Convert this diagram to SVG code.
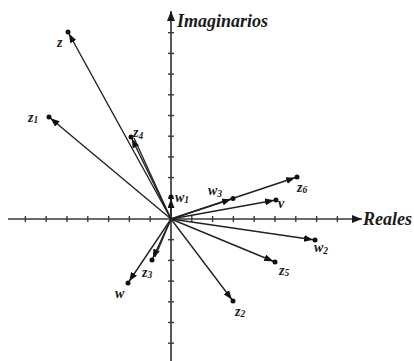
<svg xmlns="http://www.w3.org/2000/svg" width="414" height="361" viewBox="0 0 414 361">
<style>
.ax{stroke:#3a3a3a;stroke-width:1.7;fill:none}
.tk{stroke:#3a3a3a;stroke-width:1.4}
.vec{stroke:#222;stroke-width:1.4;fill:none;marker-end:url(#ah)}
.ln{stroke:#222;stroke-width:1.3;fill:none}
.dot{fill:#111}
.lb{font-family:"Liberation Serif",serif;font-style:italic;font-weight:bold;font-size:14px;fill:#1a1a1a}
.sb{font-size:9.5px}
.ttl{font-family:"Liberation Serif",serif;font-style:italic;font-weight:bold;font-size:18px;fill:#1a1a1a}
</style>
<defs>
<marker id="ah" markerUnits="userSpaceOnUse" markerWidth="9" markerHeight="7" refX="11" refY="3.5" orient="auto">
<path d="M0,0 L9,3.5 L0,7 z" fill="#111"/>
</marker>
<marker id="axh" markerUnits="userSpaceOnUse" markerWidth="10" markerHeight="8" refX="10" refY="4" orient="auto">
<path d="M0,0 L10,4 L0,8 z" fill="#1a1a1a"/>
</marker>
</defs>
<g id="axes">
<line class="ax" x1="8" y1="219" x2="362" y2="219" marker-end="url(#axh)"/>
<line class="ax" x1="171" y1="361" x2="171" y2="11" marker-end="url(#axh)"/>
<g class="tk">
<line x1="25.4" y1="216" x2="25.4" y2="222"/><line x1="46.2" y1="216" x2="46.2" y2="222"/><line x1="67" y1="216" x2="67" y2="222"/><line x1="87.8" y1="216" x2="87.8" y2="222"/><line x1="108.6" y1="216" x2="108.6" y2="222"/><line x1="129.4" y1="216" x2="129.4" y2="222"/><line x1="150.2" y1="216" x2="150.2" y2="222"/>
<line x1="191.8" y1="216" x2="191.8" y2="222"/><line x1="212.6" y1="216" x2="212.6" y2="222"/><line x1="233.4" y1="216" x2="233.4" y2="222"/><line x1="254.2" y1="216" x2="254.2" y2="222"/><line x1="275" y1="216" x2="275" y2="222"/><line x1="295.8" y1="216" x2="295.8" y2="222"/><line x1="316.6" y1="216" x2="316.6" y2="222"/><line x1="337.4" y1="216" x2="337.4" y2="222"/>
<line x1="168" y1="198.3" x2="174" y2="198.3"/><line x1="168" y1="177.6" x2="174" y2="177.6"/><line x1="168" y1="156.9" x2="174" y2="156.9"/><line x1="168" y1="136.2" x2="174" y2="136.2"/><line x1="168" y1="115.5" x2="174" y2="115.5"/><line x1="168" y1="94.8" x2="174" y2="94.8"/><line x1="168" y1="74.1" x2="174" y2="74.1"/><line x1="168" y1="53.4" x2="174" y2="53.4"/><line x1="168" y1="32.7" x2="174" y2="32.7"/>
<line x1="168" y1="239.7" x2="174" y2="239.7"/><line x1="168" y1="260.4" x2="174" y2="260.4"/><line x1="168" y1="281.1" x2="174" y2="281.1"/><line x1="168" y1="301.8" x2="174" y2="301.8"/><line x1="168" y1="322.5" x2="174" y2="322.5"/><line x1="168" y1="343.2" x2="174" y2="343.2"/>
</g>
<text class="ttl" x="177" y="27">Imaginarios</text>
<text class="ttl" x="363" y="225">Reales</text>
</g>
<g id="connectors">
<line class="vec" x1="171" y1="219" x2="68" y2="32"/>
<line class="vec" x1="171" y1="219" x2="49" y2="117"/>
<line class="vec" x1="171" y1="219" x2="131" y2="137"/>
<line class="ln" x1="171" y1="219" x2="134" y2="138"/>
<line class="vec" x1="171" y1="219" x2="171" y2="197"/>
<line class="vec" x1="171" y1="219" x2="297" y2="177"/>
<line class="vec" x1="171" y1="219" x2="233" y2="198.5"/>
<line class="vec" x1="171" y1="219" x2="276" y2="200"/>
<line class="vec" x1="171" y1="219" x2="315" y2="240"/>
<line class="vec" x1="171" y1="219" x2="275" y2="262"/>
<line class="vec" x1="171" y1="219" x2="233" y2="301"/>
<line class="vec" x1="171" y1="219" x2="152" y2="260"/>
<line class="ln" x1="171" y1="219" x2="155" y2="257"/>
<line class="vec" x1="171" y1="219" x2="128" y2="283"/>
</g>
<g id="z"><circle class="dot" cx="68" cy="32" r="2.5"/><text class="lb" x="57" y="47">z</text></g>
<g id="z1"><circle class="dot" cx="49" cy="117" r="2.5"/><text class="lb" x="28" y="122">z<tspan class="sb" dy="1">1</tspan></text></g>
<g id="z4"><circle class="dot" cx="131" cy="137" r="2.5"/><text class="lb" x="133" y="137">z<tspan class="sb" dy="2">4</tspan></text></g>
<g id="w1"><circle class="dot" cx="171" cy="197" r="2.5"/><text class="lb" x="175" y="202">w<tspan class="sb" dy="1">1</tspan></text></g>
<g id="w3"><circle class="dot" cx="233" cy="198.5" r="2.5"/><text class="lb" x="208" y="195">w<tspan class="sb" dy="2">3</tspan></text></g>
<g id="z6"><circle class="dot" cx="297" cy="177" r="2.5"/><text class="lb" x="297" y="192">z<tspan class="sb" dy="1">6</tspan></text></g>
<g id="v"><circle class="dot" cx="276" cy="200" r="2.5"/><text class="lb" x="278" y="208">v</text></g>
<g id="w2"><circle class="dot" cx="315" cy="240" r="2.5"/><text class="lb" x="314" y="252">w<tspan class="sb" dy="2">2</tspan></text></g>
<g id="z5"><circle class="dot" cx="275" cy="262" r="2.5"/><text class="lb" x="279" y="275">z<tspan class="sb" dy="1">5</tspan></text></g>
<g id="z2"><circle class="dot" cx="233" cy="301" r="2.5"/><text class="lb" x="235" y="316">z<tspan class="sb" dy="1">2</tspan></text></g>
<g id="z3"><circle class="dot" cx="152" cy="260" r="2.5"/><text class="lb" x="142" y="277">z<tspan class="sb" dy="1">3</tspan></text></g>
<g id="w"><circle class="dot" cx="128" cy="283" r="2.5"/><text class="lb" x="115" y="298">w</text></g>
</svg>
